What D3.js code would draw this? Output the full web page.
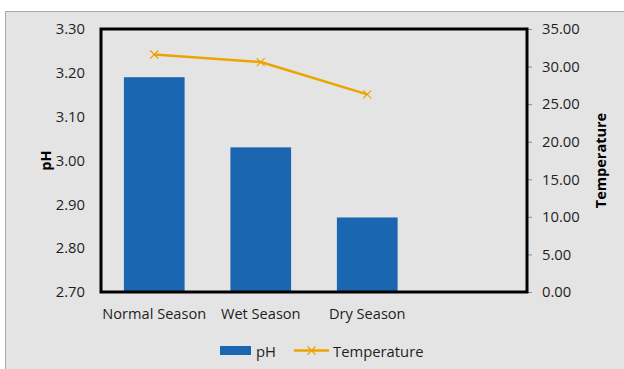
<!DOCTYPE html>
<html>
<head>
<meta charset="utf-8">
<script src="https://cdn.jsdelivr.net/npm/d3@7"></script>
<style>
  html, body { margin: 0; padding: 0; background: #ffffff; }
  svg { display: block; font-family: "Open Sans", Lato, sans-serif; }
</style>
</head>
<body>
<svg id="chart" width="624" height="369"></svg>
<script>
// Season categories (the fourth slot is left empty on the axis)
const categories = ["Normal Season", "Wet Season", "Dry Season", ""];
const phValues = [3.19, 3.03, 2.87];
const temperatureValues = [31.6, 30.6, 26.3];
const phTicks = [2.70, 2.80, 2.90, 3.00, 3.10, 3.20, 3.30];
const tempTicks = [0, 5, 10, 15, 20, 25, 30, 35];

const svg = d3.select("#chart");
const W = 624, H = 369;
const plot = { left: 101, right: 527, top: 29, bottom: 292 };
const font = "'Open Sans', Lato, sans-serif";
const fs = 14.8;

const barColor = "#1b66b0";
const lineColor = "#eba400";
const textColor = "#1e1e1e";

// chart area background with a thin grey frame
svg.append("rect")
  .attr("x", 5.5).attr("y", 11.5)
  .attr("width", W).attr("height", H)
  .attr("fill", "#e4e4e4")
  .attr("stroke", "#a8a8a8").attr("stroke-width", 1);

const x = d3.scaleBand()
  .domain(categories)
  .range([plot.left, plot.right])
  .paddingInner(0.43).paddingOuter(0.215);

const yPh = d3.scaleLinear().domain([2.70, 3.30]).range([plot.bottom, plot.top]);
const yTemp = d3.scaleLinear().domain([0, 35]).range([plot.bottom, plot.top]);

// pH bars
svg.append("g").selectAll("rect")
  .data(phValues)
  .join("rect")
  .attr("x", (d, i) => x(categories[i]))
  .attr("y", d => yPh(d))
  .attr("width", x.bandwidth())
  .attr("height", d => yPh(2.70) - yPh(d))
  .attr("fill", barColor);

// left axis (pH)
const leftAxis = d3.axisLeft(yPh).tickValues(phTicks).tickFormat(d3.format(".2f")).tickSize(0).tickPadding(16);
const gl = svg.append("g").attr("transform", `translate(${plot.left},0)`).call(leftAxis);
gl.select(".domain").remove();
gl.selectAll("text").attr("font-size", fs).attr("fill", textColor).attr("font-family", font);

// right axis (Temperature)
const rightAxis = d3.axisRight(yTemp).tickValues(tempTicks).tickFormat(d3.format(".2f")).tickSize(5).tickPadding(10);
const gr = svg.append("g").attr("transform", `translate(${plot.right},0)`).call(rightAxis);
gr.select(".domain").remove();
gr.selectAll("line").attr("stroke", "#8c8c8c");
gr.selectAll("text").attr("font-size", fs).attr("fill", textColor).attr("font-family", font);

// category labels
const gx = svg.append("g").attr("transform", `translate(0,${plot.bottom})`)
  .call(d3.axisBottom(x).tickSize(0).tickPadding(17));
gx.select(".domain").remove();
gx.selectAll("text").attr("font-size", 14.6).attr("fill", textColor).attr("font-family", font);

// plot frame
svg.append("rect")
  .attr("x", plot.left).attr("y", plot.top)
  .attr("width", plot.right - plot.left).attr("height", plot.bottom - plot.top)
  .attr("fill", "none").attr("stroke", "#000").attr("stroke-width", 3);

// temperature line with x markers
const cx = (i) => x(categories[i]) + x.bandwidth() / 2;
const line = d3.line().x((d, i) => cx(i)).y(d => yTemp(d));
svg.append("path").datum(temperatureValues)
  .attr("d", line).attr("fill", "none")
  .attr("stroke", lineColor).attr("stroke-width", 2.5).attr("stroke-linejoin", "round");

const marker = (g, px, py, s) => {
  g.append("path")
    .attr("d", `M${px - s},${py - s}L${px + s},${py + s}M${px - s},${py + s}L${px + s},${py - s}`)
    .attr("stroke", lineColor).attr("stroke-width", 1.2).attr("fill", "none");
};
const gm = svg.append("g");
temperatureValues.forEach((d, i) => marker(gm, cx(i), yTemp(d), 4));

// axis titles
svg.append("text")
  .attr("transform", `translate(45,${(plot.top + plot.bottom) / 2}) rotate(-90)`)
  .attr("text-anchor", "middle").attr("dominant-baseline", "central")
  .attr("font-size", 14.5).attr("font-weight", "bold").attr("fill", "#000")
  .text("pH");
svg.append("text")
  .attr("transform", `translate(600,${(plot.top + plot.bottom) / 2}) rotate(-90)`)
  .attr("text-anchor", "middle").attr("dominant-baseline", "central")
  .attr("font-size", 14.5).attr("font-weight", "bold").attr("fill", "#000")
  .text("Temperature");

// legend
const lg = svg.append("g").attr("font-size", fs).attr("fill", textColor).attr("font-family", font);
lg.append("rect").attr("x", 220).attr("y", 346).attr("width", 31).attr("height", 9).attr("fill", barColor);
lg.append("text").attr("x", 256).attr("y", 351).attr("dominant-baseline", "central").text("pH");
lg.append("line").attr("x1", 294).attr("x2", 329).attr("y1", 350.5).attr("y2", 350.5)
  .attr("stroke", lineColor).attr("stroke-width", 2.5);
marker(lg, 311.5, 350.5, 4);
lg.append("text").attr("x", 333).attr("y", 351).attr("dominant-baseline", "central").text("Temperature");
</script>
</body>
</html>
